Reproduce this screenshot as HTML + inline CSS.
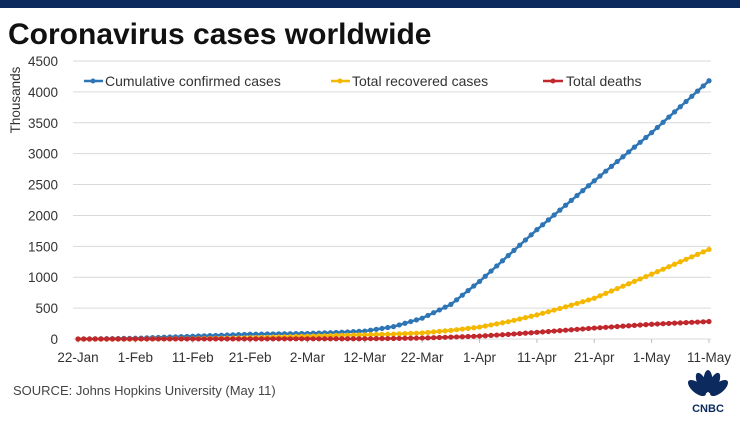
<!DOCTYPE html>
<html><head><meta charset="utf-8"><style>
body{margin:0;width:740px;height:416px;background:#fff;overflow:hidden;font-family:"Liberation Sans",sans-serif}
</style></head><body>
<svg id="s" width="740" height="416" xmlns="http://www.w3.org/2000/svg" font-family="Liberation Sans, sans-serif">
<rect x="0" y="0" width="740" height="8" fill="#0c2a5e"/>
<text x="8" y="44" font-size="30" font-weight="bold" fill="#111">Coronavirus cases worldwide</text>
<g id="grid" stroke="#d9d9d9" stroke-width="1"></g>
<g id="yl" font-size="13.5" fill="#333" text-anchor="end"></g>
<text transform="translate(20,100) rotate(-90)" font-size="13.5" fill="#333" text-anchor="middle">Thousands</text>
<g id="xl" font-size="13.5" fill="#333" text-anchor="middle"></g>
<g id="series"></g>
<g font-size="14" fill="#333">
<line x1="84" y1="81" x2="103" y2="81" stroke="#2e75b6" stroke-width="2.5"/><circle cx="93" cy="81" r="2.5" fill="#2e75b6"/>
<text x="105" y="86">Cumulative confirmed cases</text>
<line x1="331" y1="81" x2="350" y2="81" stroke="#f5b800" stroke-width="2.5"/><circle cx="340" cy="81" r="2.5" fill="#f5b800"/>
<text x="352" y="86">Total recovered cases</text>
<line x1="543" y1="81" x2="563" y2="81" stroke="#c0282d" stroke-width="2.5"/><circle cx="553" cy="81" r="2.5" fill="#c0282d"/>
<text x="566" y="86">Total deaths</text>
</g>
<text x="13" y="395" font-size="13" fill="#444">SOURCE: Johns Hopkins University (May 11)</text>
<g fill="#0c2a5e">
<ellipse cx="697" cy="388" rx="5" ry="11" transform="rotate(-50 697 388)"/>
<ellipse cx="702" cy="383" rx="4.5" ry="11" transform="rotate(-25 702 383)"/>
<ellipse cx="708" cy="381" rx="4.5" ry="11"/>
<ellipse cx="714" cy="383" rx="4.5" ry="11" transform="rotate(25 714 383)"/>
<ellipse cx="719" cy="388" rx="5" ry="11" transform="rotate(50 719 388)"/>
<text x="708" y="412" font-size="11" font-weight="bold" text-anchor="middle">CNBC</text>
</g>
</svg>
<script>
var ns="http://www.w3.org/2000/svg";
function el(p,t,a){var e=document.createElementNS(ns,t);for(var k in a)e.setAttribute(k,a[k]);document.getElementById(p).appendChild(e);return e;}
var x0=78,dx=(709-78)/110,y0=339,sy=278/4500;
for(var v=0;v<=4500;v+=500){var y=y0-v*sy;el('grid','line',{x1:73,x2:711,y1:y,y2:y});var t=el('yl','text',{x:58,y:y+5});t.textContent=v;}
var labs=["22-Jan","1-Feb","11-Feb","21-Feb","2-Mar","12-Mar","22-Mar","1-Apr","11-Apr","21-Apr","1-May","11-May"];
for(var i=0;i<12;i++){var x=x0+i*10*dx;var t=el('xl','text',{x:x,y:362});t.textContent=labs[i];el('grid','line',{x1:x,x2:x,y1:y0,y2:y0+4,stroke:'#bfbfbf'});}
function interp(a,d){for(var i=0;i<a.length-1;i++){if(d>=a[i][0]&&d<=a[i+1][0]){var f=(d-a[i][0])/(a[i+1][0]-a[i][0]);return a[i][1]+f*(a[i+1][1]-a[i][1]);}}return a[a.length-1][1];}
var C=[[0,0.5],[10,12],[20,45],[30,77],[40,90],[45,105],[50,128],[55,200],[60,337],[65,560],[70,932],[75,1350],[80,1770],[90,2560],[100,3340],[110,4180]];
var R=[[0,0],[10,0.3],[20,5],[30,20],[40,45],[50,68],[55,80],[60,98],[65,140],[70,193],[75,280],[80,390],[85,520],[90,660],[100,1050],[110,1450]];
var D=[[0,0],[20,1],[30,2.2],[40,3.1],[50,4.6],[55,8],[60,15],[65,30],[70,47],[75,75],[80,108],[90,177],[100,239],[110,283]];
function draw(a,c){var pts=[];for(var d=0;d<=110;d++)pts.push((x0+d*dx).toFixed(1)+","+(y0-interp(a,d)*sy).toFixed(1));
el('series','polyline',{points:pts.join(" "),fill:"none",stroke:c,"stroke-width":2.5});
for(var d=0;d<=110;d++)el('series','circle',{cx:x0+d*dx,cy:y0-interp(a,d)*sy,r:2.6,fill:c});}
draw(C,"#2e75b6");draw(R,"#f5b800");draw(D,"#c0282d");
</script>
</body></html>
